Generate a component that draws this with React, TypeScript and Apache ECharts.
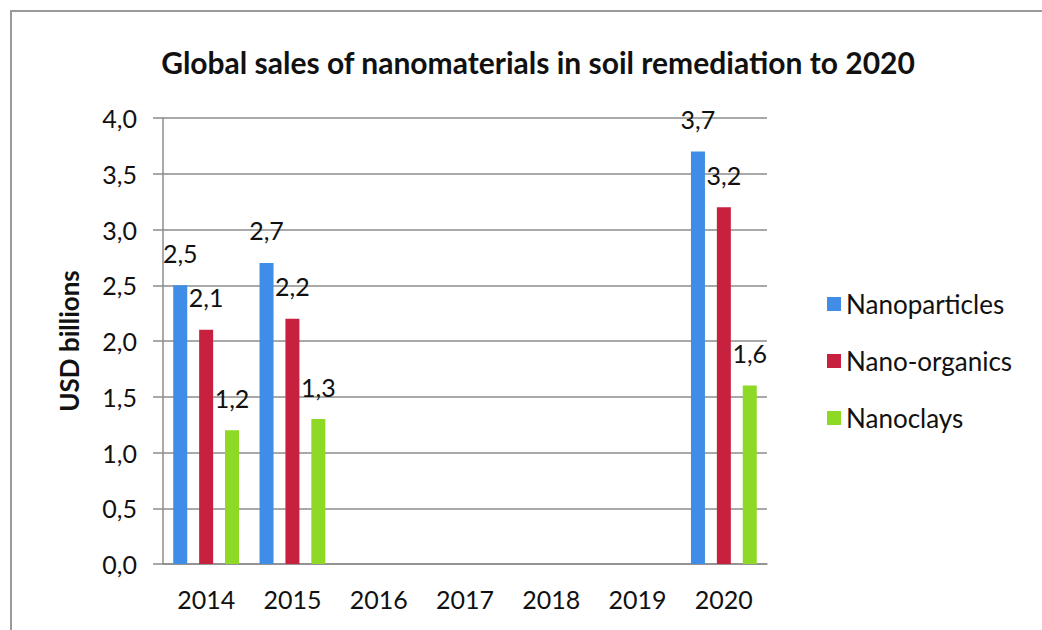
import React, { useEffect, useRef } from "react";
import * as echarts from "echarts";

const titleText = "Global sales of nanomaterials in soil remediation to 2020";
const yAxisName = "USD billions";
const categories = ["2014", "2015", "2016", "2017", "2018", "2019", "2020"];
const seriesNames = ["Nanoparticles", "Nano-organics", "Nanoclays"];
const nanoparticles = [2.5, 2.7, null, null, null, null, 3.7];
const nanoOrganics = [2.1, 2.2, null, null, null, null, 3.2];
const nanoclays = [1.2, 1.3, null, null, null, null, 1.6];
const colors = ["#3f8de6", "#c8213f", "#8ed925"];

const FONT = "Lato, 'Open Sans', sans-serif";
const fmt = (v: number) => v.toFixed(1).replace(".", ",");

export default function App() {
  const ref = useRef<HTMLDivElement>(null);
  useEffect(() => {
    if (!ref.current) return;
    const chart = echarts.init(ref.current, undefined, { renderer: "svg" });
    const values = [nanoparticles, nanoOrganics, nanoclays];
    chart.setOption({
      animation: false,
      backgroundColor: "#ffffff",
      textStyle: { fontFamily: FONT },
      title: {
        text: titleText,
        left: 533,
        textAlign: "center",
        top: 42,
        textStyle: { fontFamily: FONT, fontSize: 30, fontWeight: "bold", color: "#111" },
      },
      graphic: [
        {
          type: "rect",
          shape: { x: 11, y: 11, width: 1040, height: 640 },
          style: { fill: "none", stroke: "#9a9a9a", lineWidth: 2 },
          silent: true,
        },
      ],
      legend: {
        orient: "vertical",
        left: 822,
        top: 286,
        itemWidth: 14,
        itemHeight: 14,
        itemGap: 31,
        icon: "rect",
        textStyle: { fontFamily: FONT, fontSize: 26, color: "#111" },
        data: seriesNames,
      },
      grid: { left: 163, right: 275, top: 118, bottom: 66, outerBoundsMode: "none" },
      xAxis: {
        type: "category",
        data: categories,
        axisLine: { show: true, lineStyle: { color: "#8c8c8c", width: 1.5 } },
        axisTick: { show: false },
        axisLabel: { interval: 0, fontFamily: FONT, fontSize: 25, color: "#111", margin: 22 },
      },
      yAxis: {
        type: "value",
        min: 0,
        max: 4,
        interval: 0.5,
        name: yAxisName,
        nameLocation: "middle",
        nameGap: 81,
        nameTextStyle: { fontFamily: FONT, fontSize: 26, fontWeight: "bold", color: "#111" },
        axisLine: { show: true, lineStyle: { color: "#8c8c8c", width: 1.5 } },
        axisTick: { show: true, inside: false, length: 10, lineStyle: { color: "#8c8c8c", width: 1.5 } },
        splitLine: { show: true, lineStyle: { color: "#8c8c8c", width: 1.5 } },
        axisLabel: { fontFamily: FONT, fontSize: 25, color: "#111", margin: 26, formatter: (v: number) => fmt(v) },
      },
      series: seriesNames.map((name, i) => ({
        name,
        type: "bar",
        data: values[i],
        barWidth: 14,
        barGap: "85%",
        itemStyle: { color: colors[i] },
        label: {
          show: true,
          position: "top",
          distance: 20,
          fontFamily: FONT,
          fontSize: 25,
          color: "#111",
          formatter: (p: any) => fmt(p.value),
        },
      })),
    });
    return () => chart.dispose();
  }, []);
  return <div ref={ref} style={{ width: 1042, height: 630, position: "absolute", left: 0, top: 0 }} />;
}
